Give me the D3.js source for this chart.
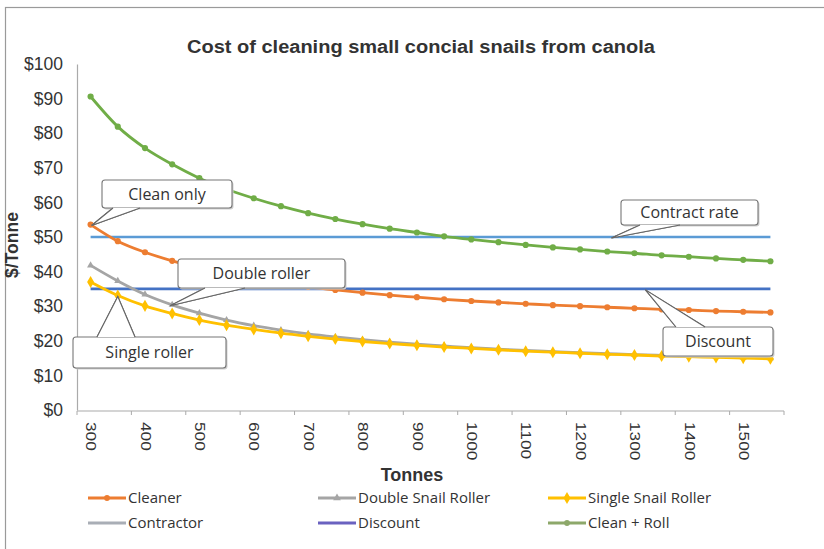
<!DOCTYPE html>
<html>
<head>
<meta charset="utf-8">
<script src="https://cdn.jsdelivr.net/npm/d3@7"></script>
<style>
  html, body { margin: 0; padding: 0; background: #fff; }
  svg { display: block; }
  .lbl { font-family: "Liberation Sans Narrow", "Liberation Sans", Arial, sans-serif; fill: #333; }
  .cal { font-family: "Open Sans", "Liberation Sans", sans-serif; fill: #333; }
</style>
</head>
<body>
<svg id="chart" width="824" height="549"></svg>
<script>
// Tonnes processed
const tonnes = [300, 350, 400, 450, 500, 550, 600, 650, 700, 750, 800, 850, 900,
                950, 1000, 1050, 1100, 1150, 1200, 1250, 1300, 1350, 1400, 1450, 1500, 1550];

// Cost per tonne ($)
const cleaner = [53.6, 48.8, 45.6, 43.1, 41.0, 39.3, 37.9, 36.7, 35.6, 34.7, 33.9, 33.2, 32.6,
                 32.0, 31.5, 31.1, 30.7, 30.3, 30.0, 29.7, 29.4, 29.1, 28.9, 28.6, 28.4, 28.2];
const doubleRoller = [41.8, 37.3, 33.4, 30.4, 28.0, 26.0, 24.4, 23.1, 22.0, 21.1, 20.3, 19.6, 19.0,
                      18.5, 18.0, 17.6, 17.2, 16.9, 16.6, 16.3, 16.0, 15.8, 15.6, 15.4, 15.2, 15.0];
const singleRoller = [37.0, 33.1, 30.1, 27.9, 26.0, 24.5, 23.3, 22.2, 21.3, 20.5, 19.8, 19.2, 18.7,
                      18.2, 17.8, 17.4, 17.0, 16.7, 16.4, 16.1, 15.9, 15.6, 15.4, 15.2, 15.0, 14.8];
const contractor = [50, 50, 50, 50, 50, 50, 50, 50, 50, 50, 50, 50, 50,
                    50, 50, 50, 50, 50, 50, 50, 50, 50, 50, 50, 50, 50];
const discount = [35, 35, 35, 35, 35, 35, 35, 35, 35, 35, 35, 35, 35,
                  35, 35, 35, 35, 35, 35, 35, 35, 35, 35, 35, 35, 35];
const cleanRoll = [90.6, 81.9, 75.7, 71.0, 67.0, 63.8, 61.2, 58.9, 56.9, 55.2, 53.7, 52.4, 51.3,
                   50.2, 49.3, 48.5, 47.7, 47.0, 46.4, 45.8, 45.3, 44.7, 44.3, 43.8, 43.4, 43.0];

const xLabels = [300, 400, 500, 600, 700, 800, 900, 1000, 1100, 1200, 1300, 1400, 1500];
const yTicks = [0, 10, 20, 30, 40, 50, 60, 70, 80, 90, 100];

const seriesNames = ["Cleaner", "Double Snail Roller", "Single Snail Roller", "Contractor", "Discount", "Clean + Roll"];
const seriesValues = [cleaner, doubleRoller, singleRoller, contractor, discount, cleanRoll];
const seriesColors = ["#ED7D31", "#A5A5A5", "#FFC000", "#5B9BD5", "#4472C4", "#70AD47"];
const legendColors = ["#ED7D31", "#A5A5A5", "#FFC000", "#A9AEB6", "#6A62C0", "#8DA86A"];
const markerKinds = ["circle", "triangle", "diamond", null, null, "circle"];

const svg = d3.select("#chart");

// outer frame
svg.append("rect").attr("x", 5.5).attr("y", 7.5).attr("width", 830).attr("height", 560)
  .attr("fill", "none").attr("stroke", "#9a9a9a").attr("stroke-width", 1.2);

const plot = { left: 77, right: 784, top: 64, bottom: 410 };

const x = d3.scalePoint().domain(tonnes).range([plot.left, plot.right]).padding(0.5);
const step = x.step();
const y = d3.scaleLinear().domain([0, 100]).range([plot.bottom, plot.top]);

// title
svg.append("text").attr("class", "lbl")
  .attr("x", 421).attr("y", 53).attr("text-anchor", "middle")
  .attr("font-size", 18).attr("font-weight", "bold").attr("fill", "#111")
  .attr("textLength", 468).attr("lengthAdjust", "spacingAndGlyphs")
  .text("Cost of cleaning small concial snails from canola");

// y axis
const yAxis = d3.axisLeft(y).tickValues(yTicks).tickSize(0).tickPadding(14)
  .tickFormat(d => "$" + d);
const gy = svg.append("g").attr("transform", `translate(${plot.left},0)`).call(yAxis);
gy.select(".domain").attr("stroke", "#aaa").attr("stroke-width", 1.2);
gy.selectAll("text").attr("class", "lbl").attr("font-size", 17.5).attr("fill", "#333");

// y title
svg.append("text").attr("class", "lbl")
  .attr("transform", "translate(18,245) rotate(-90)")
  .attr("text-anchor", "middle").attr("font-size", 17.5).attr("font-weight", "bold").attr("fill", "#111")
  .text("$/Tonne");

// x axis (category axis, labels every second category)
const gx = svg.append("g");
gx.append("line").attr("x1", plot.left).attr("x2", plot.right)
  .attr("y1", plot.bottom + 1).attr("y2", plot.bottom + 1)
  .attr("stroke", "#aaa").attr("stroke-width", 1.2);
xLabels.concat([1600]).forEach(v => {
  const bx = v === 1600 ? plot.right : x(v) - step / 2;
  gx.append("line").attr("x1", bx).attr("x2", bx)
    .attr("y1", plot.bottom + 1).attr("y2", plot.bottom + 5)
    .attr("stroke", "#aaa");
});
gx.selectAll("text.xl").data(xLabels).enter().append("text")
  .attr("class", "lbl xl")
  .attr("transform", d => `translate(${x(d) + 1},${plot.bottom + 12}) rotate(90) scale(1.15,1)`)
  .attr("text-anchor", "start").attr("dy", "0.35em")
  .attr("font-size", 15).attr("fill", "#444")
  .text(d => d);

// x title
svg.append("text").attr("class", "lbl")
  .attr("x", 412).attr("y", 481).attr("text-anchor", "middle")
  .attr("font-size", 18).attr("font-weight", "bold").attr("fill", "#111")
  .text("Tonnes");

// series
const line = d3.line().x((d, i) => x(tonnes[i])).y(d => y(d)).curve(d3.curveMonotoneX);
const drawOrder = [3, 4, 5, 0, 1, 2];
drawOrder.forEach(si => {
  const vals = seriesValues[si];
  const g = svg.append("g");
  g.append("path").datum(vals).attr("d", line)
    .attr("fill", "none").attr("stroke", seriesColors[si])
    .attr("stroke-width", si === 3 || si === 4 ? 2.6 : 2.8)
    .attr("stroke-linejoin", "round");
  const kind = markerKinds[si];
  if (kind) {
    const sym = kind === "circle" ? d3.symbolCircle : kind === "diamond" ? d3.symbolDiamond : d3.symbolTriangle;
    const size = kind === "diamond" ? 42 : kind === "triangle" ? 22 : 30;
    g.selectAll("path.m").data(vals).enter().append("path").attr("class", "m")
      .attr("transform", (d, i) => `translate(${x(tonnes[i])},${y(d)})`)
      .attr("d", d3.symbol().type(sym).size(size))
      .attr("fill", seriesColors[si]);
  }
});

// callouts
function callout(bx, by, bw, bh, txt, wedge) {
  const g = svg.append("g");
  g.append("path")
    .attr("d", `M${wedge[0][0]},${wedge[0][1]} L${wedge[1][0]},${wedge[1][1]} L${wedge[2][0]},${wedge[2][1]}`)
    .attr("fill", "#fff").attr("stroke", "#666").attr("stroke-width", 1.1);
  g.append("rect").attr("x", bx + 1.5).attr("y", by + 1.5).attr("width", bw).attr("height", bh)
    .attr("rx", 3).attr("fill", "#cfcfcf");
  g.append("rect").attr("x", bx).attr("y", by).attr("width", bw).attr("height", bh)
    .attr("rx", 3).attr("fill", "#fff").attr("stroke", "#777").attr("stroke-width", 1.1);
  // cover the joint between box and wedge
  g.append("path")
    .attr("d", `M${wedge[0][0]},${wedge[0][1]} L${wedge[1][0]},${wedge[1][1]} L${wedge[2][0]},${wedge[2][1]}Z`)
    .attr("fill", "#fff");
  g.append("path")
    .attr("d", `M${wedge[0][0]},${wedge[0][1]} L${wedge[1][0]},${wedge[1][1]} L${wedge[2][0]},${wedge[2][1]}`)
    .attr("fill", "none").attr("stroke", "#666").attr("stroke-width", 1.1);
  g.append("text").attr("class", "cal")
    .attr("x", bx + bw / 2).attr("y", by + bh / 2).attr("dy", "0.35em")
    .attr("text-anchor", "middle").attr("font-size", 16).attr("fill", "#333")
    .text(txt);
}

const p300 = x(300);
callout(102, 180, 130, 28, "Clean only",
  [[113, 208], [p300 + 1, y(cleaner[0]) + 1], [140, 208]]);
callout(178, 259, 167, 29, "Double roller",
  [[205, 288], [x(450) - 2, y(doubleRoller[3]) + 1], [245, 288]]);
callout(73, 337, 153, 31, "Single roller",
  [[97, 337], [x(350), y(singleRoller[1]) + 1], [135, 337]]);
callout(621, 200, 137, 25, "Contract rate",
  [[640, 225], [x(1300) - 23, y(50) + 1], [680, 225]]);
callout(663, 327, 110, 29, "Discount",
  [[676, 327], [x(1300) + 11, y(35) + 1], [705, 327]]);

// legend
const legendPos = [[88, 498], [318, 498], [548, 498], [88, 523], [318, 523], [548, 523]];
seriesNames.forEach((name, si) => {
  const [lx, ly] = legendPos[si];
  const g = svg.append("g");
  g.append("line").attr("x1", lx).attr("x2", lx + 38).attr("y1", ly).attr("y2", ly)
    .attr("stroke", legendColors[si]).attr("stroke-width", 2.8);
  const kind = markerKinds[si];
  if (kind) {
    const sym = kind === "circle" ? d3.symbolCircle : kind === "diamond" ? d3.symbolDiamond : d3.symbolTriangle;
    g.append("path").attr("transform", `translate(${lx + 19},${ly})`)
      .attr("d", d3.symbol().type(sym).size(kind === "diamond" ? 42 : 26))
      .attr("fill", legendColors[si]);
  }
  g.append("text").attr("class", "cal")
    .attr("x", lx + 40).attr("y", ly).attr("dy", "0.35em")
    .attr("font-size", 15).attr("fill", "#333")
    .text(name);
});
</script>
</body>
</html>
